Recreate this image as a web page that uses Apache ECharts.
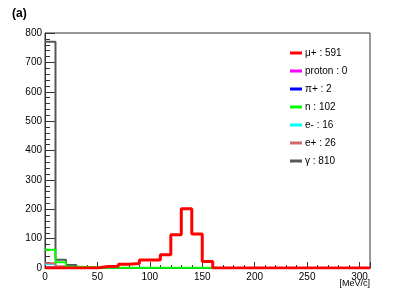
<!DOCTYPE html>
<html><head><meta charset="utf-8">
<script src="https://cdn.jsdelivr.net/npm/echarts@6/dist/echarts.min.js"></script>
<style>html,body{margin:0;padding:0;background:#fff}#c{width:415px;height:300px}</style>
</head><body><div id="c"></div>
<script>
// bin low edges (MeV/c), bin width 10
var binEdges = [0,10,20,30,40,50,60,70,80,90,100,110,120,130,140,150,160,170,180,190,200,210,220,230,240,250,260,270,280,290,300,310];
var seriesNames = ["μ+ : 591","proton : 0","π+ : 2","n : 102","e- : 16","e+ : 26","γ : 810"];
var muPlus  = [0,0,0,0,0,5,6,13,15,27,27,45,113,202,116,22,0,0,0,0,0,0,0,0,0,0,0,0,0,0,0];
var proton  = [0,0,0,0,0,0,0,0,0,0,0,0,0,0,0,0,0,0,0,0,0,0,0,0,0,0,0,0,0,0,0];
var piPlus  = [2,0,0,0,0,0,0,0,0,0,0,0,0,0,0,0,0,0,0,0,0,0,0,0,0,0,0,0,0,0,0];
var neutron = [62,20,4,3,2,1,1,1,1,1,1,1,1,1,1,1,0,0,0,0,0,0,0,0,0,0,0,0,0,0,0];
var eMinus  = [14,2,0,0,0,0,0,0,0,0,0,0,0,0,0,0,0,0,0,0,0,0,0,0,0,0,0,0,0,0,0];
var ePlus   = [16,6,2,1,1,0,0,0,0,0,0,0,0,0,0,0,0,0,0,0,0,0,0,0,0,0,0,0,0,0,0];
var gamma   = [770,28,10,2,0,0,0,0,0,0,0,0,0,0,0,0,0,0,0,0,0,0,0,0,0,0,0,0,0,0,0];
var xTicks = [0,50,100,150,200,250,300];
var yTicks = [0,100,200,300,400,500,600,700,800];

function steps(vals){
  var d = [];
  for (var i=0;i<vals.length;i++) d.push([binEdges[i], vals[i]]);
  d.push([binEdges[vals.length], vals[vals.length-1]]);
  return d;
}
var colors = {"μ+ : 591":"#ff0000","proton : 0":"#ff00ff","π+ : 2":"#0000ff","n : 102":"#00ff00","e- : 16":"#00ffff","e+ : 26":"#d06a6a","γ : 810":"#575757"};
var widths = {"μ+ : 591":3,"proton : 0":2,"π+ : 2":2,"n : 102":2,"e- : 16":2,"e+ : 26":2,"γ : 810":2};
var dataByName = {"μ+ : 591":muPlus,"proton : 0":proton,"π+ : 2":piPlus,"n : 102":neutron,"e- : 16":eMinus,"e+ : 26":ePlus,"γ : 810":gamma};
var drawOrder = ["proton : 0","π+ : 2","e- : 16","e+ : 26","γ : 810","n : 102","μ+ : 591"];
var series = drawOrder.map(function(n){
  return {name:n,type:'line',step:'end',symbol:'none',data:steps(dataByName[n]),
    lineStyle:{color:colors[n],width:widths[n]},itemStyle:{color:colors[n]},animation:false,z:2};
});
var font = 'Liberation Sans, Arial, sans-serif';
var chart = echarts.init(document.getElementById('c'),null,{renderer:'canvas'});
chart.setOption({
  animation:false,
  backgroundColor:'#fff',
  title:{text:'(a)',left:7,top:3,textStyle:{fontSize:12,fontWeight:'bold',color:'#000',fontFamily:font}},
  grid:{left:45,right:45,top:33,bottom:32,show:true,borderColor:'#333',borderWidth:1,backgroundColor:'transparent'},
  legend:{orient:'vertical',left:285,top:42,data:seriesNames,icon:'rect',itemWidth:12,itemHeight:3,itemGap:6,
    textStyle:{fontSize:10,color:'#000',fontFamily:font,lineHeight:12,padding:[0,0,0,-2]}},
  xAxis:{type:'value',min:0,max:310,interval:50,
    axisLine:{show:true,onZero:false,lineStyle:{color:'#333'}},
    axisTick:{show:true,inside:true,length:6,lineStyle:{color:'#333'}},
    minorTick:{show:true,splitNumber:5,length:3,lineStyle:{color:'#333'}},
    axisLabel:{showMaxLabel:false,fontSize:10,color:'#000',fontFamily:font,margin:4,
      formatter:function(v){return xTicks.indexOf(v)>=0?String(v):'';}},
    splitLine:{show:false}},
  yAxis:{type:'value',min:0,max:800,interval:100,
    axisLine:{show:true,lineStyle:{color:'#333'}},
    axisTick:{show:true,inside:true,length:10,lineStyle:{color:'#333'}},
    minorTick:{show:true,splitNumber:5,length:5,lineStyle:{color:'#333'}},
    axisLabel:{fontSize:10,color:'#000',fontFamily:font,margin:3,
      formatter:function(v){return yTicks.indexOf(v)>=0?String(v):'';}},
    splitLine:{show:false}},
  graphic:[{type:'text',right:45,top:279,style:{text:'[MeV/c]',fontSize:9,fill:'#000',fontFamily:font}}],
  series:series
});
</script></body></html>
